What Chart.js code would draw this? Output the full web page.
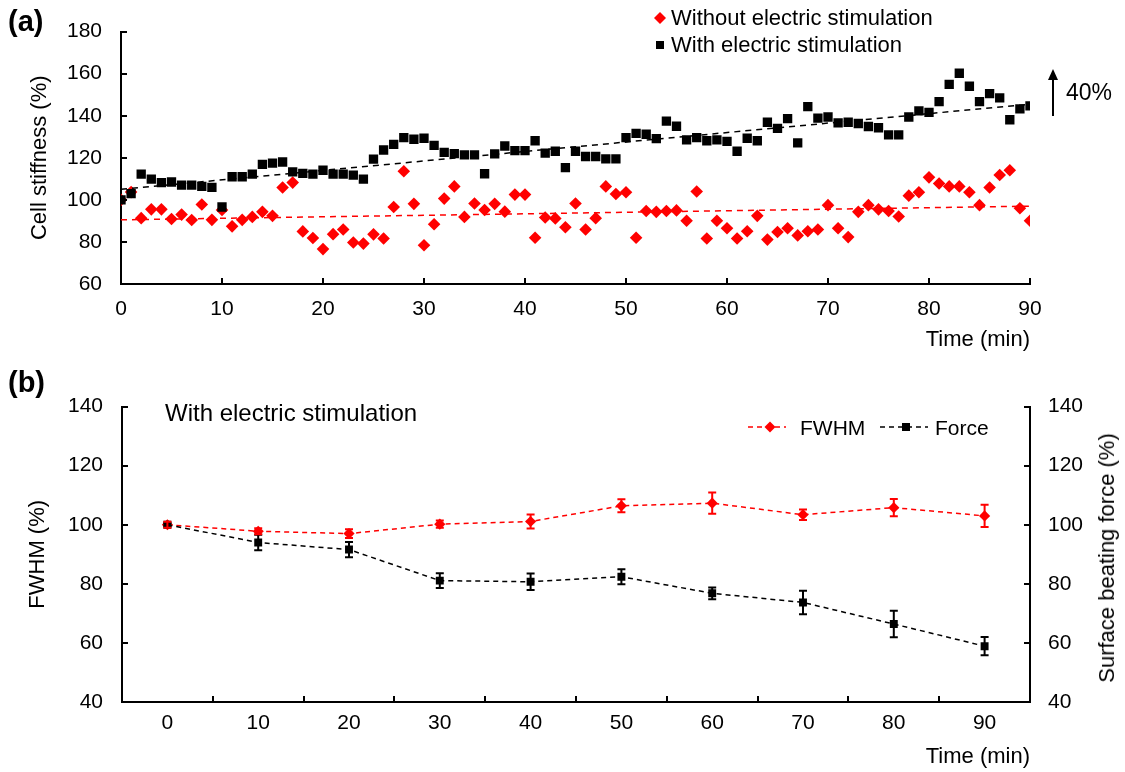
<!DOCTYPE html>
<html>
<head>
<meta charset="utf-8">
<script src="https://cdn.jsdelivr.net/npm/chart.js@4.4.1/dist/chart.umd.min.js"></script>
<style>
  body { margin: 0; background: #fff; font-family: "Liberation Sans", Arial, sans-serif; color: #000; }
  #wrap { position: relative; width: 1125px; height: 772px; overflow: hidden; }
  canvas { position: absolute; left: 0; }
  .txt { position: absolute; white-space: nowrap; line-height: 1; }
  .lbl { font-weight: bold; font-size: 29px; }
  .vtitle { position: absolute; white-space: nowrap; line-height: 1; font-size: 22px;
            transform: translate(-50%, -50%) rotate(-90deg); }
</style>
</head>
<body>
<div id="wrap">
  <canvas id="chartA" width="1125" height="372" style="top:0"></canvas>
  <canvas id="chartB" width="1125" height="397" style="top:375px"></canvas>

  <div class="txt lbl" style="left:8px;top:7px">(a)</div>
  <div class="txt lbl" style="left:8px;top:368px">(b)</div>

  <!-- legend (a) -->
  <svg class="txt" style="left:653px;top:11px" width="14" height="14"><polygon points="7,1 13,7 7,13 1,7" fill="#ff0000"/></svg>
  <div class="txt" style="left:671px;top:7px;font-size:22px">Without electric stimulation</div>
  <svg class="txt" style="left:655px;top:40px" width="10" height="10"><rect x="1" y="1" width="8" height="8" fill="#000"/></svg>
  <div class="txt" style="left:671px;top:34px;font-size:22px">With electric stimulation</div>

  <!-- 40% arrow -->
  <svg class="txt" style="left:1046px;top:68px" width="14" height="50">
    <line x1="7" y1="10" x2="7" y2="48" stroke="#000" stroke-width="2"/>
    <polygon points="7,1 12,12 2,12" fill="#000"/>
  </svg>
  <div class="txt" style="left:1066px;top:81px;font-size:23px">40%</div>

  <!-- panel (b) note and legend -->
  <div class="txt" style="left:165px;top:401px;font-size:24px">With electric stimulation</div>
  <svg class="txt" style="left:748px;top:420px" width="40" height="14">
    <line x1="0" y1="7" x2="38" y2="7" stroke="#ff0000" stroke-width="1.5" stroke-dasharray="5 4"/>
    <polygon points="22,1.5 27.5,7 22,12.5 16.5,7" fill="#ff0000"/>
  </svg>
  <div class="txt" style="left:800px;top:417px;font-size:21px">FWHM</div>
  <svg class="txt" style="left:880px;top:420px" width="50" height="14">
    <line x1="0" y1="7" x2="48" y2="7" stroke="#000" stroke-width="1.5" stroke-dasharray="5 4"/>
    <rect x="22" y="3" width="8" height="8" fill="#000"/>
  </svg>
  <div class="txt" style="left:935px;top:417px;font-size:21px">Force</div>

  <!-- right axis title of (b), reads bottom to top -->
  <div class="vtitle" style="left:1107px;top:558px">Surface beating force (%)</div>
</div>

<script>
// panel (a): cell stiffness (%) sampled every minute, 0..90 min
const stiffWith = [
  100, 103, 112.2, 109.9, 108.2, 108.5, 107, 107, 106.4, 105.9,
  96.6, 111, 111, 112.2, 116.9, 117.5, 118, 113.3, 112.6, 112.2,
  114.1, 112.2, 112.2, 111.8, 109.9, 119.4, 123.7, 126.4, 129.6, 128.8,
  129.3, 125.9, 122.6, 122, 121.4, 121.4, 112.4, 121.9, 125.6, 123.4,
  123.4, 128.1, 122.2, 123.1, 115.3, 123.1, 120.6, 120.6, 119.5, 119.5,
  129.6, 131.6, 131.2, 129.1, 137.4, 135, 128.5, 129.6, 128.1, 128.5,
  127.8, 123.1, 129.3, 128.1, 136.9, 134, 138.6, 127.1, 144.3, 138.9,
  139.4, 136.6, 136.9, 136.3, 134.9, 134.3, 130.9, 130.9, 139.4, 142.3,
  141.6, 146.7, 154.9, 160.2, 154, 146.7, 150.5, 148.5, 138.1, 143.3,
  144.7
];
const stiffWithout = [
  100, 103.7, 91.3, 95.5, 95.5, 90.9, 93, 90.4, 97.8, 90.5,
  95.2, 87.4, 90.5, 91.9, 94.3, 92.4, 105.9, 108.2, 85, 81.9,
  76.6, 83.7, 85.9, 79.7, 79.2, 83.6, 81.6, 96.6, 113.6, 98.1,
  78.4, 88.4, 100.6, 106.4, 91.9, 98.3, 95.2, 98.1, 94.4, 102.5,
  102.5, 82, 91.6, 91.2, 87, 98.3, 85.9, 91.3, 106.4, 102.8,
  103.6, 82, 94.7, 94.3, 94.7, 95, 90.1, 104, 81.6, 90.1,
  86.5, 81.6, 85.1, 92.4, 81.1, 84.7, 86.5, 83.1, 85.1, 85.9,
  97.5, 86.5, 82.3, 94.3, 97.5, 95.5, 94.7, 92.1, 102, 103.6,
  110.7, 107.8, 106.4, 106.4, 103.6, 97.5, 105.9, 111.8, 114.1, 96,
  90.1
];
// linear trend lines (end points)
const trendX = [0, 90];
const trendWith = [105, 145.5];
const trendWithout = [90.5, 97];

// panel (b)
const timeLabels = ['0', '10', '20', '30', '40', '50', '60', '70', '80', '90'];
const fwhm = [100, 97.8, 97, 100.2, 101.1, 106.4, 107.3, 103.4, 105.8, 103];
const fwhmErr = [1, 1, 1.5, 1.2, 2.4, 2.2, 3.6, 1.8, 2.9, 3.8];
const force = [100, 94, 91.6, 81.1, 80.7, 82.4, 76.8, 73.7, 66.4, 58.9];
const forceErr = [0.6, 2.6, 2.6, 2.5, 2.8, 2.5, 2, 4, 4.5, 3.1];

Chart.defaults.font.family = '"Liberation Sans", Arial, sans-serif';
Chart.defaults.color = '#000';

// tick marks drawn inside the plot area
const inwardTicks = {
  id: 'inwardTicks',
  afterDraw(chart, args, opts) {
    const ctx = chart.ctx;
    ctx.save();
    ctx.strokeStyle = '#000';
    ctx.lineWidth = 2;
    (opts.axes || []).forEach(a => {
      const s = chart.scales[a.id];
      const vals = a.between
        ? s.ticks.slice(0, -1).map((t, i) => i + 0.5)
        : s.ticks.map(t => t.value);
      vals.forEach(v => {
        const p = Math.round(s.getPixelForValue(v));
        ctx.beginPath();
        if (s.isHorizontal()) {
          ctx.moveTo(p, s.top); ctx.lineTo(p, s.top - 6);
        } else if (s.position === 'left') {
          ctx.moveTo(s.right, p); ctx.lineTo(s.right + 6, p);
        } else {
          ctx.moveTo(s.left, p); ctx.lineTo(s.left - 6, p);
        }
        ctx.stroke();
      });
    });
    ctx.restore();
  }
};

// vertical error bars with caps
const errorBars = {
  id: 'errorBars',
  afterDatasetsDraw(chart) {
    const ctx = chart.ctx;
    chart.data.datasets.forEach((ds, i) => {
      if (!ds.errors) return;
      const meta = chart.getDatasetMeta(i);
      const ys = chart.scales[ds.yAxisID];
      ctx.save();
      ctx.strokeStyle = ds.borderColor;
      ctx.lineWidth = 2;
      meta.data.forEach((pt, j) => {
        const top = ys.getPixelForValue(ds.data[j] + ds.errors[j]);
        const bot = ys.getPixelForValue(ds.data[j] - ds.errors[j]);
        ctx.beginPath();
        ctx.moveTo(pt.x, top); ctx.lineTo(pt.x, bot);
        ctx.moveTo(pt.x - 4, top); ctx.lineTo(pt.x + 4, top);
        ctx.moveTo(pt.x - 4, bot); ctx.lineTo(pt.x + 4, bot);
        ctx.stroke();
      });
      ctx.restore();
    });
  }
};

const axisBase = {
  grid: { display: true, drawOnChartArea: false, drawTicks: false },
  border: { display: true, color: '#000', width: 2 }
};

new Chart(document.getElementById('chartA'), {
  type: 'scatter',
  data: {
    datasets: [
      {
        label: 'With electric stimulation',
        data: stiffWith.map((v, i) => ({ x: i, y: v })),
        pointStyle: 'rect', pointRadius: 6.6, backgroundColor: '#000', borderWidth: 0, order: 1
      },
      {
        label: 'Without electric stimulation',
        data: stiffWithout.map((v, i) => ({ x: i, y: v })),
        pointStyle: 'rectRot', pointRadius: 6.3, backgroundColor: '#ff0000', borderWidth: 0, order: 2
      },
      {
        type: 'line', data: trendX.map((x, i) => ({ x, y: trendWith[i] })),
        borderColor: '#000', borderWidth: 1.5, borderDash: [6, 5], pointRadius: 0, order: 0
      },
      {
        type: 'line', data: trendX.map((x, i) => ({ x, y: trendWithout[i] })),
        borderColor: '#ff0000', borderWidth: 1.5, borderDash: [6, 5], pointRadius: 0, order: 0
      }
    ]
  },
  options: {
    responsive: false, animation: false, devicePixelRatio: 1,
    layout: { padding: { top: 25, right: 95, left: 0, bottom: 0 } },
    plugins: {
      legend: { display: false }, tooltip: { enabled: false },
      inwardTicks: { axes: [{ id: 'x' }, { id: 'y' }] }
    },
    scales: {
      x: {
        ...axisBase, type: 'linear', min: 0, max: 90,
        ticks: { stepSize: 10, padding: 13, font: { size: 21 } },
        title: { display: true, text: 'Time (min)', align: 'end', font: { size: 22 }, padding: { top: 0, bottom: 19 } },
        afterFit(s) { s.height = 88; }
      },
      y: {
        ...axisBase, min: 60, max: 180,
        ticks: { stepSize: 20, padding: 19, font: { size: 21 } },
        title: { display: true, text: 'Cell stiffness (%)', font: { size: 22 }, padding: { top: 27, bottom: 0 } },
        afterFit(s) { s.width = 121; }
      }
    }
  },
  plugins: [inwardTicks]
});

new Chart(document.getElementById('chartB'), {
  type: 'line',
  data: {
    labels: timeLabels,
    datasets: [
      {
        label: 'Force', data: force, errors: forceErr, yAxisID: 'y1',
        borderColor: '#000', borderWidth: 1.5, borderDash: [5, 4],
        pointStyle: 'rect', pointRadius: 5.6, pointBackgroundColor: '#000', pointBorderWidth: 0, order: 0
      },
      {
        label: 'FWHM', data: fwhm, errors: fwhmErr, yAxisID: 'y',
        borderColor: '#ff0000', borderWidth: 1.5, borderDash: [5, 4],
        pointStyle: 'rectRot', pointRadius: 5.6, pointBackgroundColor: '#ff0000', pointBorderWidth: 0, order: 1
      }
    ]
  },
  options: {
    responsive: false, animation: false, devicePixelRatio: 1,
    layout: { padding: { top: 28, right: 0, left: 0, bottom: 0 } },
    plugins: {
      legend: { display: false }, tooltip: { enabled: false },
      inwardTicks: { axes: [{ id: 'x', between: true }, { id: 'y' }, { id: 'y1' }] }
    },
    scales: {
      x: {
        ...axisBase, type: 'category', offset: true,
        ticks: { padding: 9, font: { size: 21 } },
        title: { display: true, text: 'Time (min)', align: 'end', font: { size: 22 }, padding: { top: 0, bottom: 2 } },
        afterFit(s) { s.height = 70; }
      },
      y: {
        ...axisBase, position: 'left', min: 40, max: 140,
        ticks: { stepSize: 20, padding: 19, font: { size: 21 } },
        title: { display: true, text: 'FWHM (%)', font: { size: 22 }, padding: { top: 25, bottom: 0 } },
        afterFit(s) { s.width = 122; }
      },
      y1: {
        ...axisBase, position: 'right', min: 40, max: 140,
        ticks: { stepSize: 20, padding: 18, font: { size: 21 } },
        title: { display: false },
        afterFit(s) { s.width = 95; }
      }
    }
  },
  plugins: [inwardTicks, errorBars]
});
</script>
</body>
</html>
